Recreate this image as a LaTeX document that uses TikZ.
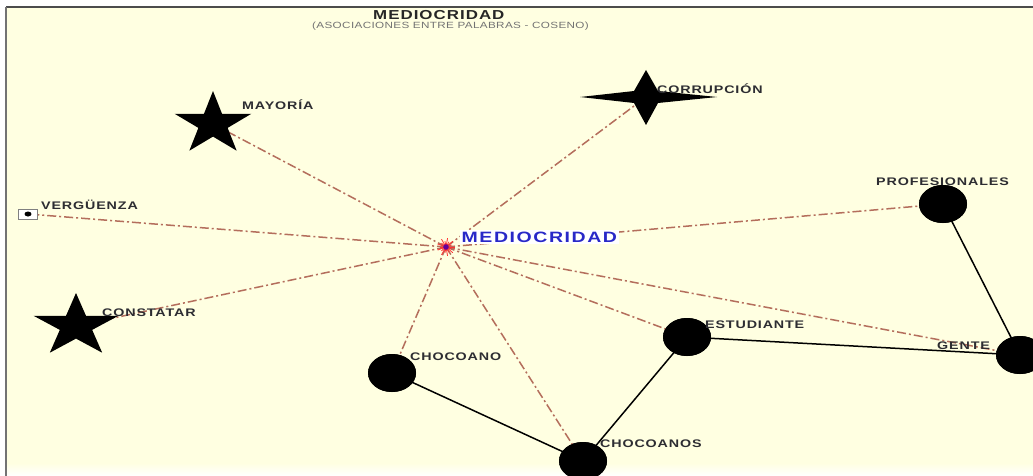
\documentclass[tikz,border=0pt]{standalone}
\usepackage{fontspec}
\setmainfont{Liberation Sans}
\newfontfamily\labfont[LetterSpace=6]{Liberation Sans}
\newfontfamily\hubfont[LetterSpace=8]{Liberation Sans}
\newfontfamily\subfont[LetterSpace=3]{Liberation Sans}
\usetikzlibrary{shapes.geometric}
\definecolor{bg}{RGB}{255,255,225}
\definecolor{lk}{RGB}{180,110,92}
\definecolor{hubblue}{RGB}{40,40,200}
\definecolor{labgray}{RGB}{45,45,50}
\newcommand\stretchtxt[1]{\scalebox{1.3}[1]{#1}}
\tikzset{
  lab/.style={font=\labfont\bfseries\fontsize{11}{13}\selectfont, text=labgray, anchor=west, inner sep=0pt},
  assoc/.style={draw=lk, line width=1.5pt, dash pattern=on 9pt off 3pt on 2pt off 3pt},
  tie/.style={draw=black, line width=1.5pt},
  blob/.style={ellipse, fill=black, minimum width=48pt, minimum height=38pt, inner sep=0pt},
}
\begin{document}
\begin{tikzpicture}[x=1pt,y=-1pt]
\useasboundingbox (0,0) rectangle (1033,476);
% background
\fill[white] (0,0) rectangle (1033,476);
\fill[bg] (6,7) rectangle (1033,463);
\shade[top color=bg, bottom color=white] (6,463) rectangle (1033,476);
\draw[black!70, line width=1.6pt] (6,7) -- (1033,7);
\draw[black!55, line width=1.8pt] (6,7) -- (6,476);
% titles
\node[font=\labfont\bfseries\fontsize{13}{15}\selectfont, text=black!85, anchor=west, inner sep=0pt] (title) at (373,15) {\stretchtxt{MEDIOCRIDAD}};
\node[font=\subfont\fontsize{9}{11}\selectfont, text=black!55, anchor=west, inner sep=0pt] (subtitle) at (312,26) {\stretchtxt{(ASOCIACIONES ENTRE PALABRAS - COSENO)}};
% centres
\coordinate (hub) at (446,247);
\coordinate (may) at (213,124);
\coordinate (cor) at (646,97);
\coordinate (ver) at (28,214);
\coordinate (con) at (76,326);
\node[blob] (pro) at (943,204) {};
\node[blob] (est) at (687,337) {};
\node[blob] (gen) at (1020,355) {};
\node[blob] (cho) at (392,373) {};
\node[blob] (chs) at (583,461) {};
% association lines
\foreach \t in {may,cor,ver,con,pro,est,gen,cho,chs}
  \draw[assoc] (hub) -- (\t.center);
% ties
\draw[tie] (pro.center) -- (gen.center);
\draw[tie] (gen.center) -- (est.center);
\draw[tie] (est.center) -- (chs.center);
\draw[tie] (cho.center) -- (chs.center);
% blobs on top
\foreach \t in {pro,est,gen,cho,chs}
  \fill[black] (\t) ellipse [x radius=24pt, y radius=19pt];
% stars
\fill[black, shift={(may)}, xscale=1.22] (-90:33) \foreach \k in {1,...,9}{ -- ({-90+36*\k}:{ifthenelse(isodd(\k),12.6,33)}) } -- cycle;
\fill[black, shift={(con)}, xscale=1.35] (-90:33) \foreach \k in {1,...,9}{ -- ({-90+36*\k}:{ifthenelse(isodd(\k),12.6,33)}) } -- cycle;
\fill[black, shift={(cor)}] (-66,0) -- (-12,-6) -- (0,-27) -- (12,-6) -- (71,0) -- (12,6) -- (0,28) -- (-12,6) -- cycle;
% verguenza marker
\draw[black!50, line width=0.6pt, fill=white] (18,209) rectangle (37,219);
\fill[black] (ver) ellipse [x radius=3.5pt, y radius=2.5pt];
% hub
\foreach \a in {0,20,...,340}
  \draw[red!80!white, line width=0.8pt] (hub) -- +(\a:{ifthenelse(mod(\a,40)==0,9,6)});
\fill[violet!80!blue] (hub) circle (2.8pt);
% labels
\node[font=\hubfont\bfseries\fontsize{15}{17}\selectfont, text=hubblue, fill=white, anchor=west, inner sep=1.5pt] (hublab) at (460,237) {\stretchtxt{MEDIOCRIDAD}};
\node[lab] (maylab) at (242,105) {\stretchtxt{MAYORÍA}};
\node[lab] (corlab) at (657,89) {\stretchtxt{CORRUPCIÓN}};
\node[lab] (verlab) at (41,205) {\stretchtxt{VERGÜENZA}};
\node[lab] (conlab) at (102,313) {\stretchtxt{CONSTATAR}};
\node[lab] (prolab) at (876,182) {\stretchtxt{PROFESIONALES}};
\node[lab] (estlab) at (705,325) {\stretchtxt{ESTUDIANTE}};
\node[lab] (genlab) at (937,346) {\stretchtxt{GENTE}};
\node[lab] (cholab) at (410,357) {\stretchtxt{CHOCOANO}};
\node[lab] (chslab) at (600,444) {\stretchtxt{CHOCOANOS}};
\end{tikzpicture}
\end{document}
